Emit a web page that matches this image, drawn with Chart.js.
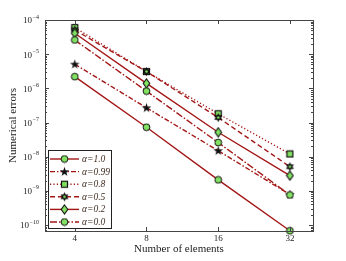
<!DOCTYPE html>
<html><head><meta charset="utf-8">
<script src="https://cdn.jsdelivr.net/npm/chart.js@4"></script>
<style>html,body{margin:0;padding:0;background:#fff}canvas{display:block}</style>
</head><body>
<canvas id="c" width="346" height="261"></canvas>
<script>
const elements = [4, 8, 16, 32];
const xTicks = [4, 8, 16, 32];
const yTickExps = [-4, -5, -6, -7, -8, -9, -10];
const labels = ['α=1.0', 'α=0.99', 'α=0.8', 'α=0.5', 'α=0.2', 'α=0.0'];
const err10 = [2.2e-6, 7.3e-8, 2.1e-9, 6.8e-11];
const err099 = [5.1e-6, 2.7e-7, 1.5e-8, 7.8e-10];
const err08 = [6.0e-5, 3.1e-6, 1.8e-7, 1.2e-8];
const err05 = [5.1e-5, 3.1e-6, 1.4e-7, 5.1e-9];
const err02 = [4.1e-5, 1.4e-6, 5.2e-8, 2.8e-9];
const err00 = [2.6e-5, 8.3e-7, 2.6e-8, 7.6e-10];

const RED = '#a31616';
const GREEN = '#82e062';
const SERIF = '"Liberation Serif","DejaVu Serif",serif';

function mk(w, h, draw) {
  const c = document.createElement('canvas');
  c.width = w; c.height = h;
  draw(c.getContext('2d'), w, h);
  return c;
}
const circleImg = mk(9, 9, (g) => { g.beginPath(); g.arc(4.5, 4.5, 3.4, 0, Math.PI*2); g.fillStyle = GREEN; g.fill(); g.lineWidth = 1; g.strokeStyle = '#111'; g.stroke(); });
const squareImg = mk(9, 9, (g) => { g.fillStyle = GREEN; g.fillRect(1.5, 1.5, 6, 6); g.lineWidth = 1.2; g.strokeStyle = '#111'; g.strokeRect(1.5, 1.5, 6, 6); });
const starImg = mk(11, 11, (g) => {
  g.beginPath();
  for (let i = 0; i < 10; i++) {
    const r = i % 2 ? 2.0 : 5.0;
    const a = -Math.PI/2 + i*Math.PI/5;
    const x = 5.5 + r*Math.cos(a), y = 5.8 + r*Math.sin(a);
    i ? g.lineTo(x, y) : g.moveTo(x, y);
  }
  g.closePath(); g.fillStyle = '#111'; g.fill();
});
const hexImg = mk(11, 11, (g) => {
  g.beginPath();
  for (let i = 0; i < 12; i++) {
    const r = i % 2 ? 2.6 : 4.6;
    const a = -Math.PI/2 + i*Math.PI/6;
    const x = 5.5 + r*Math.cos(a), y = 5.5 + r*Math.sin(a);
    i ? g.lineTo(x, y) : g.moveTo(x, y);
  }
  g.closePath(); g.fillStyle = '#111'; g.fill();
  g.beginPath(); g.arc(5.5, 5.5, 1.3, 0, Math.PI*2); g.fillStyle = GREEN; g.fill();
});
const diamondImg = mk(9, 11, (g) => {
  g.beginPath(); g.moveTo(4.5, 1); g.lineTo(7.8, 5.5); g.lineTo(4.5, 10); g.lineTo(1.2, 5.5); g.closePath();
  g.fillStyle = GREEN; g.fill(); g.lineWidth = 1.1; g.strokeStyle = '#111'; g.stroke();
});

const series = [err10, err099, err08, err05, err02, err00];
const markers = [circleImg, starImg, squareImg, hexImg, diamondImg, circleImg];
const dashes = [[], [5, 2, 1.5, 2], [1.2, 2.2], [5, 3], [], [7, 2, 1.5, 2]];

const datasets = series.map((s, i) => ({
  label: labels[i],
  data: s.map((v, j) => ({ x: elements[j], y: v })),
  borderColor: RED,
  borderWidth: 1.4,
  borderDash: dashes[i],
  pointStyle: markers[i],
  pointRadius: 4,
  pointHoverRadius: 4,
  fill: false,
  tension: 0,
  clip: false,
  order: series.length - i
}));

function supLabel(ctx, x, y, exp) {
  ctx.textBaseline = 'middle';
  ctx.textAlign = 'right';
  ctx.font = '6px ' + SERIF;
  const es = '\u2212' + Math.abs(exp);
  const ew = ctx.measureText(es).width;
  ctx.fillText(es, x, y - 4);
  ctx.font = '9px ' + SERIF;
  ctx.fillText('10', x - ew - 0.5, y);
}

const framePlugin = {
  id: 'frame',
  afterDraw(chart) {
    const ctx = chart.ctx;
    const a = chart.chartArea;
    const xs = chart.scales.x, ys = chart.scales.y;
    ctx.save();
    ctx.strokeStyle = '#444';
    ctx.lineWidth = 1;
    ctx.strokeRect(Math.round(a.left) + 0.5, Math.round(a.top) + 0.5, Math.round(a.right - a.left), Math.round(a.bottom - a.top));
    // y ticks
    ctx.beginPath();
    for (let e = -11; e <= -4; e++) {
      for (let m = 1; m <= 9; m++) {
        const v = m * Math.pow(10, e);
        if (v < ys.min || v > ys.max * 1.0001) continue;
        const py = Math.round(ys.getPixelForValue(v)) + 0.5;
        const len = m === 1 ? 4 : 2;
        ctx.moveTo(a.left, py); ctx.lineTo(a.left + len, py);
        ctx.moveTo(a.right, py); ctx.lineTo(a.right - len, py);
      }
    }
    // x ticks
    xTicks.forEach(t => {
      const px = Math.round(xs.getPixelForValue(t)) + 0.5;
      ctx.moveTo(px, a.bottom); ctx.lineTo(px, a.bottom - 4);
      ctx.moveTo(px, a.top); ctx.lineTo(px, a.top + 4);
    });
    ctx.stroke();
    // labels
    ctx.fillStyle = '#222';
    yTickExps.forEach(e => {
      const py = ys.getPixelForValue(Math.pow(10, e));
      supLabel(ctx, 39, py + 1, e);
    });
    ctx.font = '9px ' + SERIF;
    ctx.textAlign = 'center';
    ctx.textBaseline = 'top';
    xTicks.forEach(t => ctx.fillText(String(t), xs.getPixelForValue(t), a.bottom + 3));
    ctx.font = '11px ' + SERIF;
    ctx.fillText('Number of elements', (a.left + a.right) / 2, a.bottom + 13);
    ctx.save();
    ctx.translate(13, (a.top + a.bottom) / 2);
    ctx.rotate(-Math.PI / 2);
    ctx.textBaseline = 'middle';
    ctx.fillText('Numerical errors', 0, 0);
    ctx.restore();
    // legend
    const lx = 48, ly = 150, lw = 63, lh = 78;
    ctx.fillStyle = '#fff';
    ctx.fillRect(lx, ly, lw, lh);
    ctx.strokeStyle = '#222';
    ctx.lineWidth = 1;
    ctx.strokeRect(lx + 0.5, ly + 0.5, lw, lh);
    chart.data.datasets.forEach((ds, i) => {
      const y = 159 + i * 12.6;
      ctx.beginPath();
      ctx.setLineDash(ds.borderDash);
      ctx.strokeStyle = ds.borderColor;
      ctx.lineWidth = ds.borderWidth;
      ctx.moveTo(50, y); ctx.lineTo(79, y);
      ctx.stroke();
      ctx.setLineDash([]);
      const img = ds.pointStyle;
      ctx.drawImage(img, 64.5 - img.width / 2, y - img.height / 2);
      ctx.fillStyle = '#3e2a1e';
      ctx.font = 'italic 9.5px ' + SERIF;
      ctx.textAlign = 'left';
      ctx.textBaseline = 'middle';
      ctx.fillText(ds.label, 82, y + 0.5);
    });
    ctx.restore();
  }
};

new Chart(document.getElementById('c'), {
  type: 'line',
  data: { datasets },
  options: {
    responsive: false,
    animation: false,
    devicePixelRatio: 1,
    layout: { padding: { left: 45, top: 20, right: 33, bottom: 30 } },
    plugins: { legend: { display: false }, tooltip: { enabled: false } },
    scales: {
      x: { type: 'logarithmic', min: 3, max: 40, display: false },
      y: { type: 'logarithmic', min: 6.7e-11, max: 1e-4, display: false }
    }
  },
  plugins: [framePlugin]
});
</script>
</body></html>
